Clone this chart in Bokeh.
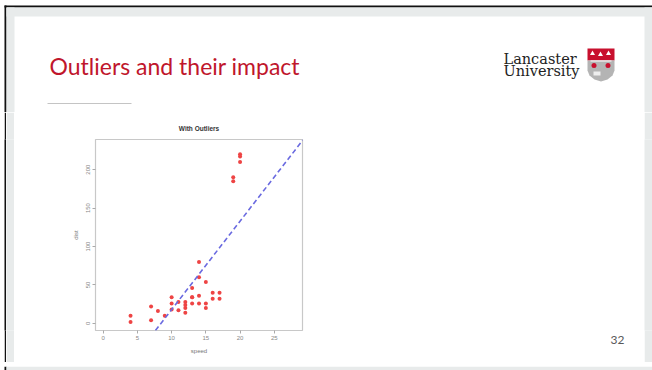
from bokeh.plotting import figure
from bokeh.models import Range1d, FixedTicker, Slope, Title
from bokeh.layouts import column, row
from bokeh.embed import file_html
from bokeh.resources import INLINE
from bokeh.core.properties import value

# ---- data (cars, first 30 rows, plus added outliers) ----
speed = [4, 4, 7, 7, 8, 9, 10, 10, 10, 11, 11, 12, 12, 12, 12, 13, 13, 13, 13,
         14, 14, 14, 14, 15, 15, 15, 16, 16, 17, 17]
dist = [2, 10, 4, 22, 16, 10, 18, 26, 34, 17, 28, 14, 20, 24, 28, 26, 34, 34, 46,
        26, 36, 60, 80, 20, 26, 54, 32, 40, 32, 40]
outlier_speed = [19, 19, 20, 20, 20]
outlier_dist = [190, 185, 220, 217, 210]
fit_intercept = -97.0
fit_slope = 11.5
x_ticks = [0, 5, 10, 15, 20, 25]
y_ticks = [0, 50, 100, 150, 200]

slide_title = "Outliers and their impact"
plot_title = "With Outliers"
page_number = "32"

GRAY = "#e8ebeb"
BLACK = "#111111"
RED = "#c0162c"

ROW_TOP, ROW_BOTTOM = 27, 32   # borders shared by the figures of the middle row


def deco(w, h, fill="white"):
    f = figure(width=w, height=h, x_range=Range1d(0, w), y_range=Range1d(h, 0),
               output_backend="svg", toolbar_location=None,
               x_axis_location=None, y_axis_location=None, min_border=0)
    f.outline_line_color = None
    f.grid.visible = False
    f.background_fill_color = fill
    f.border_fill_color = fill
    return f


# ---- header (page y 0..112) ----
top = deco(652, 112)
top.quad(left=[4], right=[652], top=[5], bottom=[7], color=BLACK, line_color=None)
top.quad(left=[4], right=[6], top=[5], bottom=[112], color=BLACK, line_color=None)
top.quad(left=[6], right=[652], top=[7], bottom=[16], color=GRAY, line_color=None)
top.quad(left=[6], right=[14], top=[7], bottom=[112], color=GRAY, line_color=None)
top.quad(left=[644], right=[652], top=[7], bottom=[112], color=GRAY, line_color=None)
top.text(x=[49], y=[65], text=[slide_title], text_font=value("Lato"),
         text_font_size="23px", text_color=RED, text_baseline="middle")
top.line([47, 131], [103, 103], line_color="#c4c4c4", line_width=1)
top.text(x=[503], y=[58], text=["Lancaster"], text_font=value("DejaVu Serif"),
         text_font_size="14.5px", text_color="#222222", text_baseline="alphabetic")
top.text(x=[503], y=[70], text=["University"], text_font=value("DejaVu Serif"),
         text_font_size="14.5px", text_color="#222222", text_baseline="alphabetic")
# shield
top.quad(left=[587], right=[614], top=[48], bottom=[60], color="#c8102e", line_color=None)
top.patch([587, 614, 614, 612, 607, 600.5, 594, 589, 587],
          [60, 60, 70, 75, 79, 81, 79, 75, 70], color="#b4b4b4", line_color=None)
top.line([590, 611], [60.5, 60.5], line_color="white", line_width=1)
top.scatter([593.5, 607.5], [65, 65], size=5, color="#c8102e", line_color=None)
top.quad(left=[593, 601], right=[600, 608], top=[71], bottom=[75], color="#eeeeee", line_color=None)
top.scatter([592, 600, 608], [53, 54, 53], marker="triangle", size=5, color="white", line_color=None)

# ---- middle row (page y 112..362) ----
RH = 250
s_white = deco(4, RH, "white")
s_black = deco(2, RH, BLACK)
s_gray_l = deco(8, RH, GRAY)
s_gray_r = deco(8, RH, GRAY)

p = figure(width=306, height=RH, x_range=Range1d(-1.12, 29.12),
           y_range=Range1d(-9.2, 239.2), title=plot_title,
           output_backend="svg", toolbar_location=None,
           min_border_left=81, min_border_right=18, min_border_top=ROW_TOP,
           min_border_bottom=ROW_BOTTOM)
p.title.align = "center"
p.title.text_font = "Liberation Sans"
p.title.text_font_size = "6.5px"
p.title.text_font_style = "bold"
p.title.text_color = "#333333"
p.title.standoff = 16
p.outline_line_color = "#c8c8c8"
p.outline_line_width = 1.2
p.grid.visible = False
p.background_fill_color = "white"
p.border_fill_color = "white"

p.xaxis.ticker = FixedTicker(ticks=x_ticks)
p.yaxis.ticker = FixedTicker(ticks=y_ticks)
p.xaxis.axis_label = "speed"
p.yaxis.axis_label = "dist"
for ax in (p.xaxis, p.yaxis):
    ax.axis_line_color = None
    ax.major_tick_line_color = "#aaaaaa"
    ax.major_tick_out = 3
    ax.major_tick_in = 0
    ax.minor_tick_line_color = None
    ax.major_label_text_font = "Liberation Sans"
    ax.major_label_text_font_size = "6px"
    ax.major_label_text_color = "#888888"
    ax.major_label_standoff = 2
    ax.axis_label_text_font = "Liberation Sans"
    ax.axis_label_text_font_size = "6px"
    ax.axis_label_text_font_style = "normal"
    ax.axis_label_text_color = "#777777"
    ax.axis_label_standoff = 5
p.yaxis.major_label_orientation = "vertical"

p.scatter(speed + outlier_speed, dist + outlier_dist, size=4,
          color="#ee4444", line_color=None)
p.add_layout(Slope(gradient=fit_slope, y_intercept=fit_intercept,
                   line_color="#6a6ae0", line_width=1.6, line_dash="5 3"))

right = deco(324, RH)
right.add_layout(Title(text=page_number, align="right", offset=20, standoff=6,
                       text_font="Lato", text_font_size="12px",
                       text_font_style="normal", text_color="#595959"), "below")

middle = row(s_white, s_black, s_gray_l, p, right, s_gray_r)

# ---- bottom band (page y 362..370) ----
bottom = deco(652, 8)
bottom.quad(left=[4], right=[6], top=[0], bottom=[8], color=BLACK, line_color=None)
bottom.quad(left=[6], right=[652], top=[0], bottom=[6], color=GRAY, line_color=None)
bottom.quad(left=[6], right=[652], top=[6], bottom=[8], color="#4a4a4a", line_color=None)

layout = column(top, middle, bottom)

open("out.html", "w").write(file_html(layout, INLINE))
